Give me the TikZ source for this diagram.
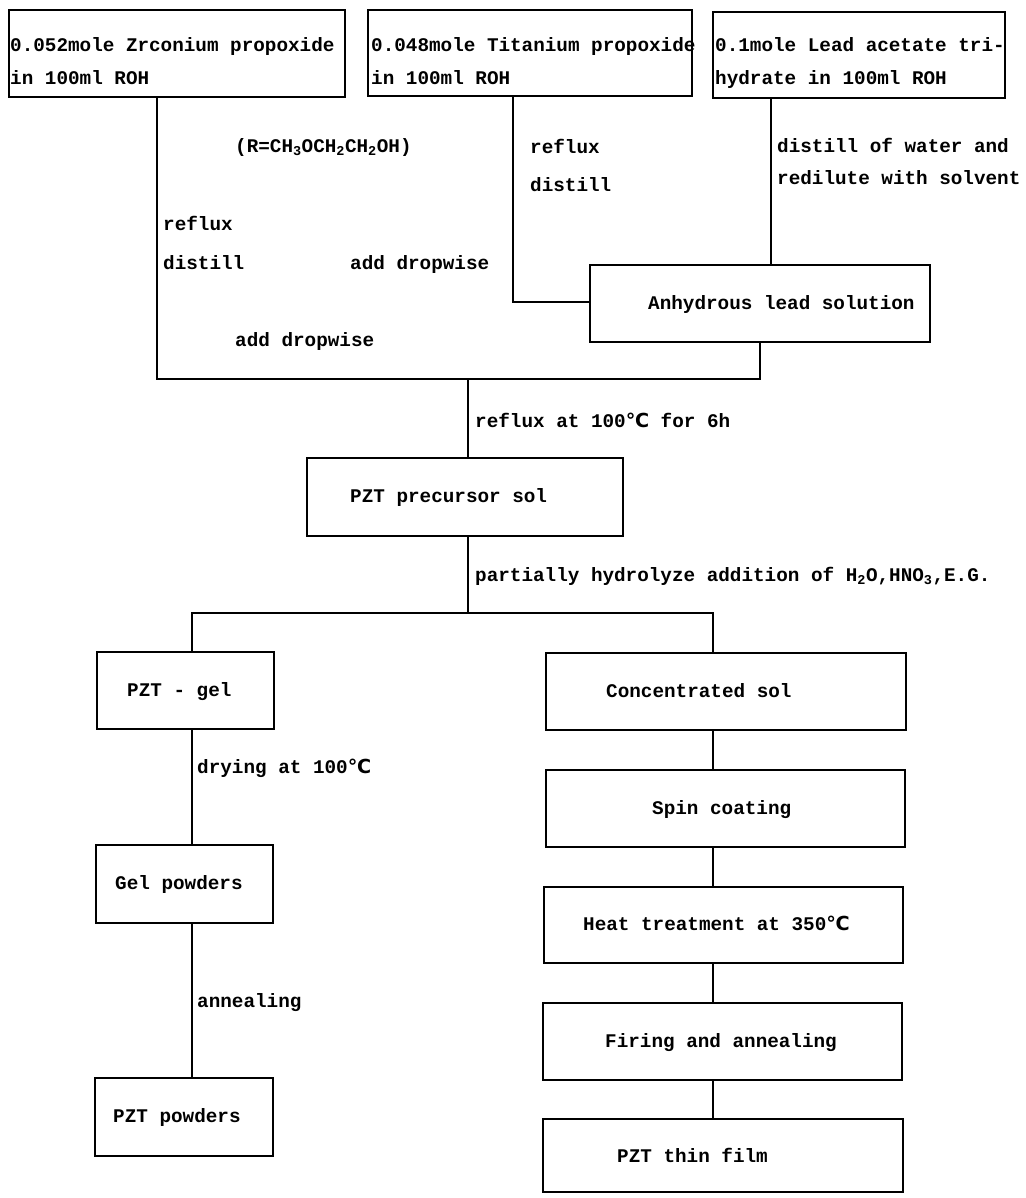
\documentclass[tikz,border=0pt]{standalone}
\usepackage{fontspec}
\newfontfamily\monofont{Liberation Mono}[BoldFont={Liberation Mono Bold}]
\newfontfamily\djv{DejaVu Sans}
\newcommand{\degc}{{\djv\bfseries ℃}}
\begin{document}
\begin{tikzpicture}[x=1pt,y=-1pt,
  box/.style={draw, line width=1.6pt, rectangle, inner sep=0pt},
  txt/.style={anchor=west, inner sep=0pt, font=\monofont\bfseries\fontsize{19.3}{23}\selectfont, text height=12pt, text depth=3pt},
  link/.style={line width=1.6pt}]
\useasboundingbox (0,0) rectangle (1025,1198);
% boxes
\node[box, minimum width=336pt, minimum height=87pt] (zr) at (177,53.5) {};
\node[box, minimum width=324pt, minimum height=86pt] (ti) at (530,53) {};
\node[box, minimum width=292pt, minimum height=86pt] (pb) at (859,55) {};
\node[box, minimum width=340pt, minimum height=77pt] (anh) at (760,303.5) {};
\node[box, minimum width=316pt, minimum height=78pt] (pre) at (465,497) {};
\node[box, minimum width=177pt, minimum height=77pt] (gel) at (185.5,690.5) {};
\node[box, minimum width=177pt, minimum height=78pt] (gelp) at (184.5,884) {};
\node[box, minimum width=178pt, minimum height=78pt] (pztp) at (184,1117) {};
\node[box, minimum width=360pt, minimum height=77pt] (conc) at (726,691.5) {};
\node[box, minimum width=359pt, minimum height=77pt] (spin) at (725.5,808.5) {};
\node[box, minimum width=359pt, minimum height=76pt] (heat) at (723.5,925) {};
\node[box, minimum width=359pt, minimum height=77pt] (fire) at (722.5,1041.5) {};
\node[box, minimum width=360pt, minimum height=73pt] (film) at (723,1155.5) {};
% box texts
\node[txt] (zr1) at (10,47) {0.052mole Zrconium propoxide};
\node[txt] (zr2) at (10,80) {in 100ml ROH};
\node[txt] (ti1) at (371,47) {0.048mole Titanium propoxide};
\node[txt] (ti2) at (371,80) {in 100ml ROH};
\node[txt] (pb1) at (715,47) {0.1mole Lead acetate tri-};
\node[txt] (pb2) at (715,80) {hydrate in 100ml ROH};
\node[txt] (anhT) at (648,305) {Anhydrous lead solution};
\node[txt] (preT) at (350,498) {PZT precursor sol};
\node[txt] (gelT) at (127,692) {PZT - gel};
\node[txt] (gelpT) at (115,885) {Gel powders};
\node[txt] (pztpT) at (113,1118) {PZT powders};
\node[txt] (concT) at (606,693) {Concentrated sol};
\node[txt] (spinT) at (652,810) {Spin coating};
\node[txt] (heatT) at (583,926) {Heat treatment at 350\degc};
\node[txt] (fireT) at (605,1043) {Firing and annealing};
\node[txt] (filmT) at (617,1158) {PZT thin film};
% connector labels
\node[txt] (rdef) at (235,148) {(R=CH\textsubscript{3}OCH\textsubscript{2}CH\textsubscript{2}OH)};
\node[txt] (zrl1) at (163,226) {reflux};
\node[txt] (zrl2) at (163,265) {distill};
\node[txt] (add1) at (350,265) {add dropwise};
\node[txt] (add2) at (235,342) {add dropwise};
\node[txt] (til1) at (530,149) {reflux};
\node[txt] (til2) at (530,187) {distill};
\node[txt] (pbl1) at (777,148) {distill of water and};
\node[txt] (pbl2) at (777,180) {redilute with solvent};
\node[txt] (refl) at (475,423) {reflux at 100\degc{} for 6h};
\node[txt] (hydr) at (475,577) {partially hydrolyze addition of H\textsubscript{2}O,HNO\textsubscript{3},E.G.};
\node[txt] (dry) at (197,769) {drying at 100\degc};
\node[txt] (ann) at (197,1003) {annealing};
% connectors
\coordinate (jl) at (157,379);
\coordinate (jm) at (468,379);
\coordinate (tj) at (513,302);
\coordinate (pj) at (771,0);
\coordinate (sp) at (468,613);
\coordinate (sl) at (192,613);
\coordinate (sr) at (713,613);
\draw[link] (zr.south -| jl) -- (jl) -- (jl -| anh.south) -- (anh.south);
\draw[link] (jm) -- (jm |- pre.north);
\draw[link] (tj |- ti.south) -- (tj) -- (tj -| anh.west);
\draw[link] (pj |- pb.south) -- (pj |- anh.north);
\draw[link] (sp |- pre.south) -- (sp);
\draw[link] (sl |- gel.north) -- (sl) -- (sr) -- (sr |- conc.north);
\draw[link] (sl |- gel.south) -- (sl |- gelp.north);
\draw[link] (sl |- gelp.south) -- (sl |- pztp.north);
\draw[link] (sr |- conc.south) -- (sr |- spin.north);
\draw[link] (sr |- spin.south) -- (sr |- heat.north);
\draw[link] (sr |- heat.south) -- (sr |- fire.north);
\draw[link] (sr |- fire.south) -- (sr |- film.north);
\end{tikzpicture}
\end{document}
